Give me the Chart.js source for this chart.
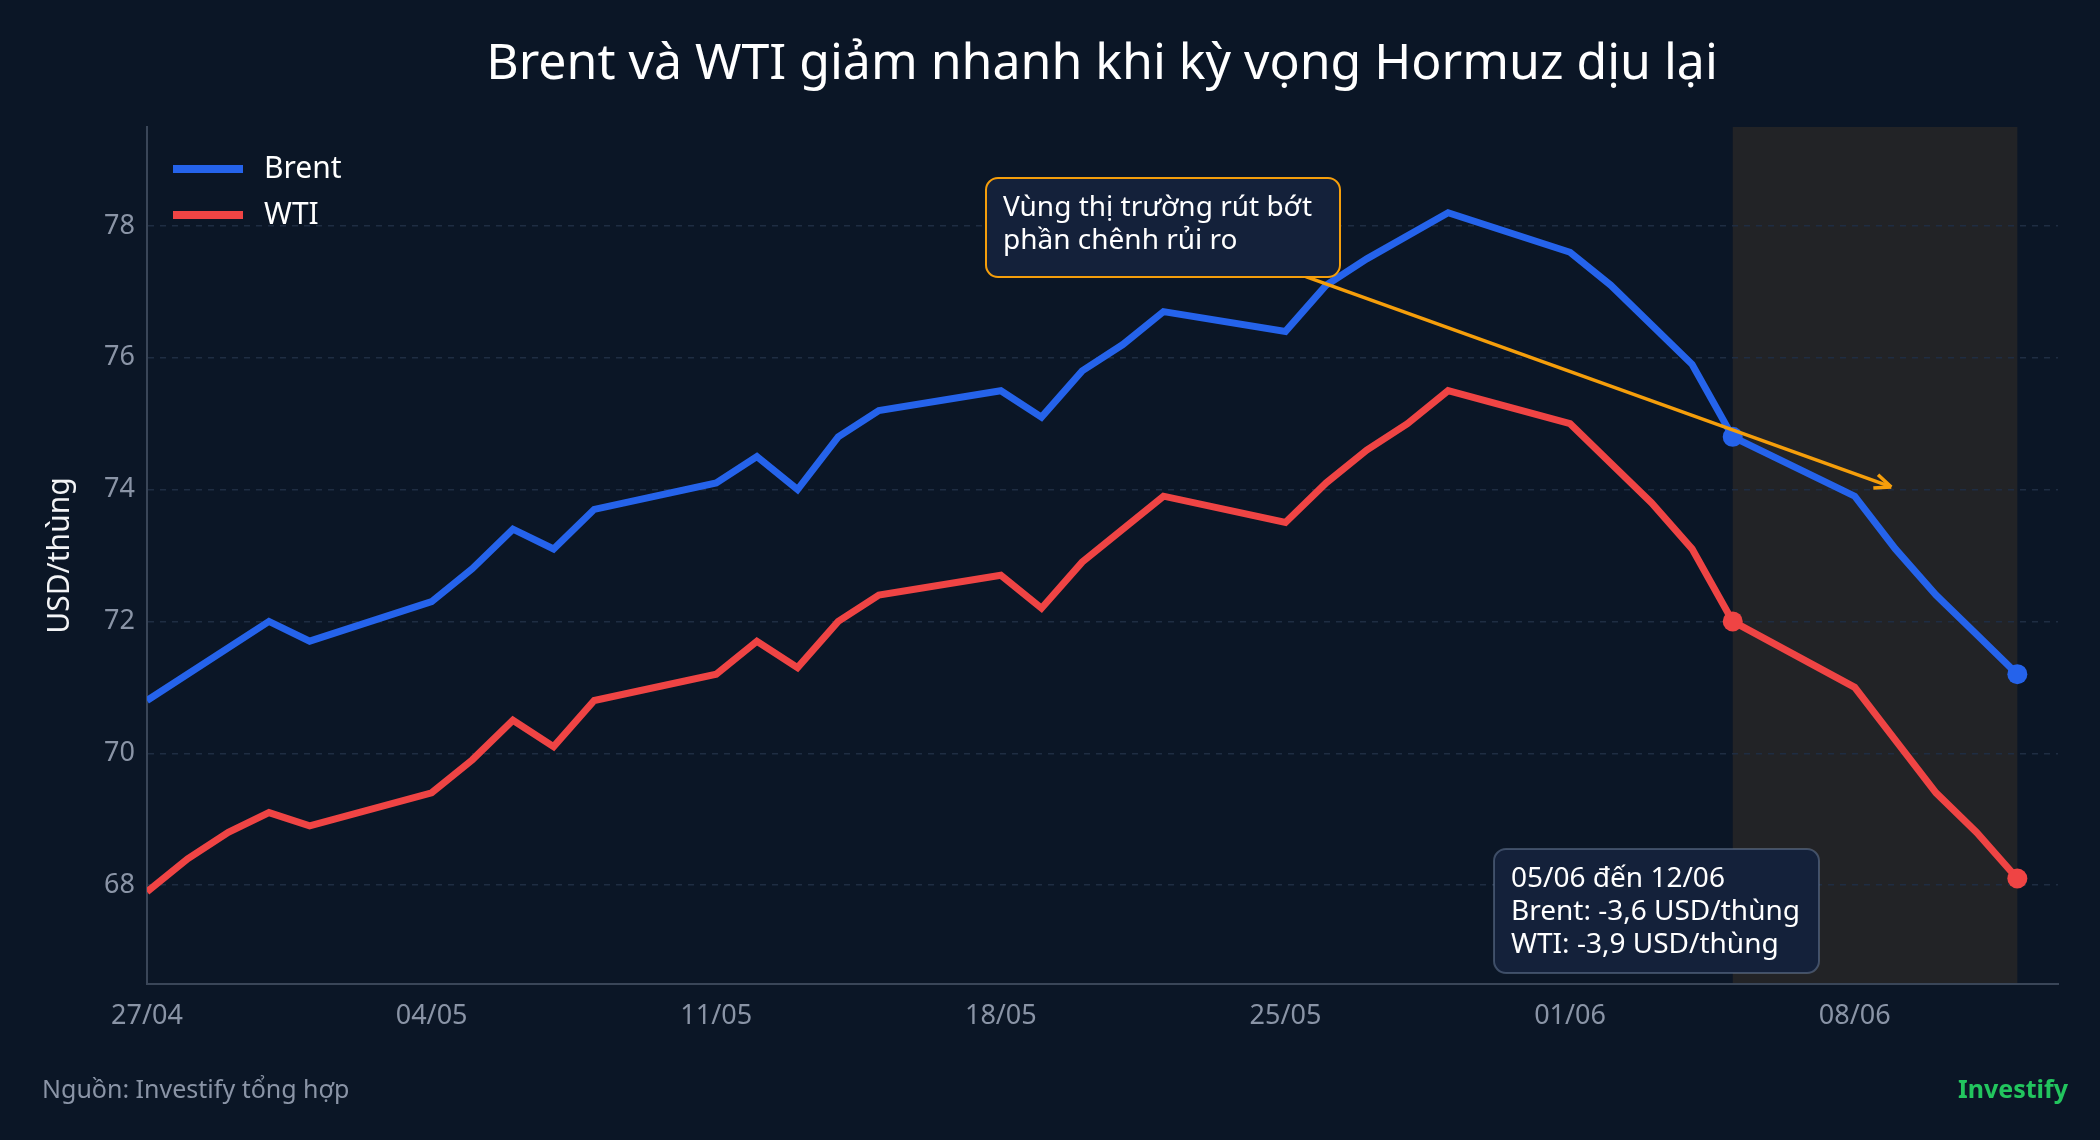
<!DOCTYPE html>
<html>
<head>
<meta charset="utf-8">
<script src="https://cdn.jsdelivr.net/npm/chart.js@4"></script>
<style>
  html, body { margin: 0; padding: 0; background: #0b1626; }
  #wrap { width: 2100px; height: 1140px; }
</style>
</head>
<body>
<div id="wrap"><canvas id="chart" width="2100" height="1140"></canvas></div>
<script>
// Day index counted from 27/04
const brentDays = [0, 3, 4, 7, 8, 9, 10, 11, 14, 15, 16, 17, 18, 21, 22, 23, 24, 25, 28, 29, 30, 32, 35, 36, 37, 38, 39, 42, 43, 44, 45, 46];
const brentValues = [70.8, 72.0, 71.7, 72.3, 72.8, 73.4, 73.1, 73.7, 74.1, 74.5, 74.0, 74.8, 75.2, 75.5, 75.1, 75.8, 76.2, 76.7, 76.4, 77.1, 77.5, 78.2, 77.6, 77.1, 76.5, 75.9, 74.8, 73.9, 73.1, 72.4, 71.8, 71.2];
const wtiDays = [0, 1, 2, 3, 4, 7, 8, 9, 10, 11, 14, 15, 16, 17, 18, 21, 22, 23, 25, 28, 29, 30, 31, 32, 35, 36, 37, 38, 39, 42, 43, 44, 45, 46];
const wtiValues = [67.9, 68.4, 68.8, 69.1, 68.9, 69.4, 69.9, 70.5, 70.1, 70.8, 71.2, 71.7, 71.3, 72.0, 72.4, 72.7, 72.2, 72.9, 73.9, 73.5, 74.1, 74.6, 75.0, 75.5, 75.0, 74.4, 73.8, 73.1, 72.0, 71.0, 70.2, 69.4, 68.8, 68.1];
const tickDays = [0, 7, 14, 21, 28, 35, 42];
const tickLabels = ['27/04', '04/05', '11/05', '18/05', '25/05', '01/06', '08/06'];
const yTicks = [68, 70, 72, 74, 76, 78];
const shadeStart = 39, shadeEnd = 46;

const FONT = '"Noto Sans", "Open Sans", sans-serif';
const BRENT = '#2563eb', WTI = '#ef4444', ORANGE = '#f59e0b';

function pts(days, vals) {
    return days.map(function(d, i) { return { x: d, y: vals[i] }; });
}

// Background, title, footer, shading, annotations, legend
const decor = {
    id: 'decor',
    beforeDraw: function(chart) {
        const c = chart.ctx, a = chart.chartArea, xs = chart.scales.x;
        c.save();
        c.fillStyle = '#0b1626';
        c.fillRect(0, 0, chart.width, chart.height);
        c.fillStyle = '#222326';
        c.fillRect(xs.getPixelForValue(shadeStart), a.top, xs.getPixelForValue(shadeEnd) - xs.getPixelForValue(shadeStart), a.bottom - a.top);
        c.restore();
    },
    afterDraw: function(chart) {
        const c = chart.ctx, xs = chart.scales.x, ys = chart.scales.y;
        c.save();
        // title
        c.fillStyle = '#ffffff';
        c.font = '50px ' + FONT;
        c.textAlign = 'center';
        c.textBaseline = 'middle';
        c.fillText('Brent và WTI giảm nhanh khi kỳ vọng Hormuz dịu lại', 1102, 65);
        // footer
        c.font = '25px ' + FONT;
        c.textAlign = 'left';
        c.fillStyle = '#8a94a6';
        c.fillText('Nguồn: Investify tổng hợp', 42, 1091);
        c.textAlign = 'right';
        c.fillStyle = '#22c55e';
        c.font = 'bold 25px ' + FONT;
        c.fillText('Investify', 2068, 1091);

        // legend
        c.textAlign = 'left';
        c.font = '30px ' + FONT;
        [['Brent', BRENT], ['WTI', WTI]].forEach(function(it, i) {
            const y = 169 + i * 46;
            c.strokeStyle = it[1];
            c.lineWidth = 8;
            c.beginPath(); c.moveTo(173, y); c.lineTo(243, y); c.stroke();
            c.fillStyle = '#ffffff';
            c.fillText(it[0], 264, y);
        });

        // arrow
        const x1 = xs.getPixelForValue(28.5), y1 = ys.getPixelForValue(77.23);
        const x2 = xs.getPixelForValue(42.9), y2 = ys.getPixelForValue(74.04);
        c.strokeStyle = ORANGE; c.lineWidth = 3.5;
        c.beginPath(); c.moveTo(x1, y1); c.lineTo(x2, y2); c.stroke();
        const ang = Math.atan2(y2 - y1, x2 - x1);
        c.beginPath();
        c.moveTo(x2, y2);
        c.lineTo(x2 - 18 * Math.cos(ang - 0.4), y2 - 18 * Math.sin(ang - 0.4));
        c.moveTo(x2, y2);
        c.lineTo(x2 - 18 * Math.cos(ang + 0.4), y2 - 18 * Math.sin(ang + 0.4));
        c.stroke();

        // callout boxes
        function box(x, y, w, h, border, lines) {
            c.fillStyle = '#14213a';
            c.strokeStyle = border;
            c.lineWidth = 2;
            c.beginPath(); c.roundRect(x, y, w, h, 12); c.fill(); c.stroke();
            c.fillStyle = '#ffffff';
            c.font = '28px ' + FONT;
            c.textAlign = 'left';
            lines.forEach(function(t, i) { c.fillText(t, x + 17, y + 30 + i * 33); });
        }
        box(986, 178, 354, 99, ORANGE, ['Vùng thị trường rút bớt', 'phần chênh rủi ro']);
        box(1494, 849, 325, 124, 'rgba(120,140,170,0.45)', ['05/06 đến 12/06', 'Brent: -3,6 USD/thùng', 'WTI: -3,9 USD/thùng']);
        c.restore();
    }
};

function endRadius(ctx) {
    const d = ctx.raw && ctx.raw.x;
    return (d === shadeStart || d === shadeEnd) ? 10 : 0;
}

new Chart(document.getElementById('chart'), {
    type: 'line',
    data: {
        datasets: [
            { label: 'Brent', data: pts(brentDays, brentValues), borderColor: BRENT, backgroundColor: BRENT, borderWidth: 7, tension: 0, pointRadius: endRadius, pointBorderWidth: 0 },
            { label: 'WTI', data: pts(wtiDays, wtiValues), borderColor: WTI, backgroundColor: WTI, borderWidth: 7, tension: 0, pointRadius: endRadius, pointBorderWidth: 0 }
        ]
    },
    options: {
        responsive: false,
        devicePixelRatio: 1,
        animation: false,
        layout: { padding: { top: 127, right: 42, bottom: 80, left: 38 } },
        plugins: { legend: { display: false }, tooltip: { enabled: false } },
        scales: {
            x: {
                type: 'linear',
                min: 0,
                max: 47.0,
                afterBuildTicks: function(s) { s.ticks = tickDays.map(function(v) { return { value: v }; }); },
                afterFit: function(s) { s.height = 76; },
                ticks: {
                    color: '#8a94a6',
                    font: { family: FONT, size: 27 },
                    padding: 8,
                    maxRotation: 0,
                    callback: function(v) { return tickLabels[tickDays.indexOf(v)]; }
                },
                grid: { display: false },
                border: { color: '#3a4658', width: 2 }
            },
            y: {
                min: 66.5,
                max: 79.5,
                afterBuildTicks: function(s) { s.ticks = yTicks.map(function(v) { return { value: v }; }); },
                afterFit: function(s) { s.width = 109; },
                ticks: { color: '#8a94a6', font: { family: FONT, size: 27 }, padding: 12 },
                grid: { color: '#1f2d42', lineWidth: 1.5, drawTicks: false },
                border: { color: '#3a4658', width: 2, dash: [6, 6] },
                title: { display: true, text: 'USD/thùng', color: '#f3f4f6', font: { family: FONT, size: 30 } }
            }
        }
    },
    plugins: [decor]
});
</script>
</body>
</html>
